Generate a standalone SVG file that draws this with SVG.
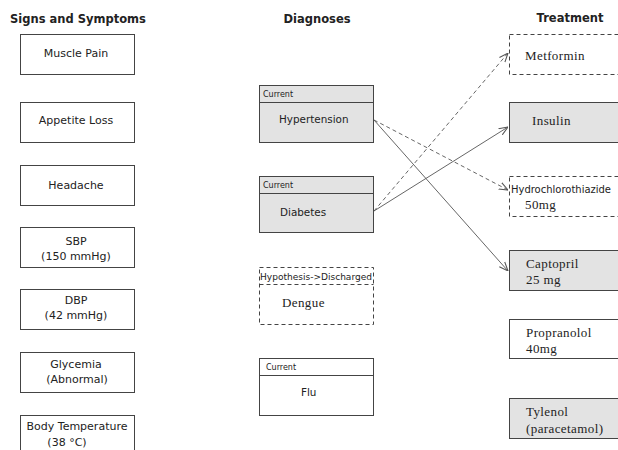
<svg xmlns="http://www.w3.org/2000/svg" width="618" height="450" viewBox="0 0 618 450">
  <style>
    .title { font-family: "DejaVu Sans", sans-serif; font-weight: bold; font-size: 11.5px; fill: #222; text-anchor: middle; }
    .box { fill: #fff; stroke: #444; stroke-width: 1; }
    .grey { fill: #e3e3e3; }
    .dash { stroke-dasharray: 4 3; }
    .sans { font-family: "DejaVu Sans", sans-serif; font-size: 11px; fill: #222; }
    .diag { font-size: 10.4px; }
    .mid { text-anchor: middle; }
    .small { font-family: "DejaVu Sans", sans-serif; font-size: 8px; fill: #222; }
    .serif { font-family: "Liberation Serif", serif; font-size: 13px; fill: #222; letter-spacing: 0.4px; }
    .link { fill: none; stroke: #555; stroke-width: 0.9; }
    .dashed { stroke-dasharray: 4 3; }
  </style>
  <defs>
    <marker id="arrow" viewBox="0 0 10 10" refX="10" refY="5" markerWidth="9" markerHeight="9" markerUnits="userSpaceOnUse" orient="auto">
      <path d="M0,1 L10,5 L0,9" fill="none" stroke="#555" stroke-width="1.2"/>
    </marker>
  </defs>
  <rect width="618" height="450" fill="#fff"/>

  <!-- column headings -->
  <text class="title" x="78" y="23">Signs and Symptoms</text>
  <text class="title" x="317" y="23">Diagnoses</text>
  <text class="title" x="570" y="22">Treatment</text>

  <!-- signs and symptoms -->
  <g id="muscle-pain">
    <rect class="box" x="20.5" y="34.5" width="114" height="40"/>
    <text class="sans mid" x="76" y="57">Muscle Pain</text>
  </g>
  <g id="appetite-loss">
    <rect class="box" x="20.5" y="102.5" width="114" height="40"/>
    <text class="sans mid" x="76" y="124">Appetite Loss</text>
  </g>
  <g id="headache">
    <rect class="box" x="20.5" y="165.5" width="114" height="40"/>
    <text class="sans mid" x="76" y="189">Headache</text>
  </g>
  <g id="sbp">
    <rect class="box" x="20.5" y="227.5" width="114" height="40"/>
    <text class="sans mid" x="76" y="245">SBP</text>
    <text class="sans mid" x="76" y="260">(150 mmHg)</text>
  </g>
  <g id="dbp">
    <rect class="box" x="20.5" y="289.5" width="114" height="40"/>
    <text class="sans mid" x="76" y="304">DBP</text>
    <text class="sans mid" x="76" y="319">(42 mmHg)</text>
  </g>
  <g id="glycemia">
    <rect class="box" x="20.5" y="352.5" width="114" height="40"/>
    <text class="sans mid" x="76" y="368">Glycemia</text>
    <text class="sans mid" x="77" y="383">(Abnormal)</text>
  </g>
  <g id="body-temperature">
    <rect class="box" x="20.5" y="415.5" width="114" height="40"/>
    <text class="sans mid" x="77" y="430">Body Temperature</text>
    <text class="sans mid" x="67" y="446">(38 °C)</text>
  </g>

  <!-- diagnoses -->
  <g id="hypertension">
    <rect class="box grey" x="259.5" y="85.5" width="114" height="57"/>
    <line x1="259.5" y1="102.5" x2="373.5" y2="102.5" stroke="#444"/>
    <text class="small" x="263" y="97">Current</text>
    <text class="sans diag" x="279" y="123">Hypertension</text>
  </g>
  <g id="diabetes">
    <rect class="box grey" x="259.5" y="176.5" width="114" height="56"/>
    <line x1="259.5" y1="193.5" x2="373.5" y2="193.5" stroke="#444"/>
    <text class="small" x="263" y="188">Current</text>
    <text class="sans diag" x="280" y="216">Diabetes</text>
  </g>
  <g id="dengue">
    <rect class="box dash" x="259.5" y="267.5" width="114" height="57"/>
    <line class="dash" x1="259.5" y1="284.5" x2="373.5" y2="284.5" stroke="#444"/>
    <text class="small" x="260" y="280" textLength="112" lengthAdjust="spacingAndGlyphs">Hypothesis-&gt;Discharged</text>
    <text class="serif" x="282" y="307">Dengue</text>
  </g>
  <g id="flu">
    <rect class="box" x="259.5" y="358.5" width="114" height="57"/>
    <line x1="259.5" y1="375.5" x2="373.5" y2="375.5" stroke="#444"/>
    <text class="small" x="266" y="370">Current</text>
    <text class="sans diag" x="301" y="396">Flu</text>
  </g>

  <!-- treatments -->
  <g id="metformin">
    <rect class="box dash" x="509.5" y="34.5" width="120" height="40"/>
    <text class="serif" x="525" y="60">Metformin</text>
  </g>
  <g id="insulin">
    <rect class="box grey" x="509.5" y="102.5" width="120" height="40"/>
    <text class="serif" x="532" y="125">Insulin</text>
  </g>
  <g id="hydrochlorothiazide">
    <rect class="box dash" x="509.5" y="176.5" width="120" height="40"/>
    <text class="sans" x="511" y="193" textLength="100" lengthAdjust="spacingAndGlyphs">Hydrochlorothiazide</text>
    <text class="serif" x="525" y="209">50mg</text>
  </g>
  <g id="captopril">
    <rect class="box grey" x="509.5" y="250.5" width="120" height="40"/>
    <text class="serif" x="526" y="268">Captopril</text>
    <text class="serif" x="526" y="284">25 mg</text>
  </g>
  <g id="propranolol">
    <rect class="box" x="509.5" y="319.5" width="120" height="39"/>
    <text class="serif" x="526" y="337">Propranolol</text>
    <text class="serif" x="526" y="353">40mg</text>
  </g>
  <g id="tylenol">
    <rect class="box grey" x="509.5" y="398.5" width="120" height="40"/>
    <text class="serif" x="526" y="416">Tylenol</text>
    <text class="serif" x="526" y="433">(paracetamol)</text>
  </g>

  <!-- connectors -->
  <g id="connectors">
    <line class="link dashed" x1="374" y1="120" x2="508" y2="190" marker-end="url(#arrow)"/>
    <line class="link" x1="374" y1="120" x2="508" y2="271" marker-end="url(#arrow)"/>
    <line class="link dashed" x1="374" y1="211" x2="508" y2="53" marker-end="url(#arrow)"/>
    <line class="link" x1="374" y1="211" x2="508" y2="127" marker-end="url(#arrow)"/>
  </g>
</svg>
